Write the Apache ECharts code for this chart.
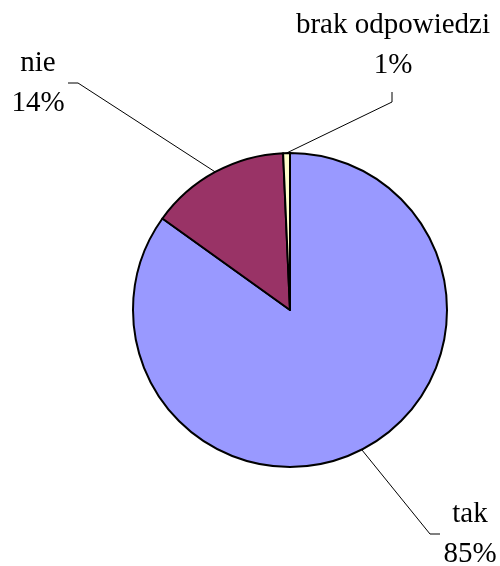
<!DOCTYPE html>
<html>
<head>
<meta charset="utf-8">
<script src="https://cdn.jsdelivr.net/npm/echarts@6/dist/echarts.min.js"></script>
<style>
  html, body { margin: 0; padding: 0; background: #fff; }
  #chart { width: 500px; height: 566px; }
</style>
</head>
<body>
<div id="chart"></div>
<script>
const categories = ['tak', 'nie', 'brak odpowiedzi']
const values = [84.9, 14.4, 0.7]
const colors = ['#9999FF', '#993366', '#FFFFCC']

const CX = 290
const CY = 310
const R = 157

// where each label sits and how its leader line ends (elbow, end)
const labelPlace = {
  'tak': { x: 470, y: 534, elbow: [430, 534], end: [440, 534] },
  'nie': { x: 38, y: 83, elbow: [78, 83], end: [68, 83] },
  'brak odpowiedzi': { x: 393, y: 45, elbow: [392, 102], end: [392, 92] }
}

function midPoint(idx) {
  const total = values.reduce((a, b) => a + b, 0)
  let before = 0
  for (let i = 0; i < idx; i++) before += values[i]
  const a = ((before + values[idx] / 2) / total) * Math.PI * 2
  return [CX + R * Math.sin(a), CY - R * Math.cos(a)]
}

const chart = echarts.init(document.getElementById('chart'))

const option = {
  backgroundColor: '#fff',
  animation: false,
  series: [
    {
      type: 'pie',
      center: [CX, CY],
      radius: R,
      startAngle: 90,
      clockwise: true,
      percentPrecision: 0,
      avoidLabelOverlap: false,
      itemStyle: { borderColor: '#000', borderWidth: 2 },
      emphasis: { disabled: true },
      label: {
        show: true,
        position: 'outside',
        formatter: '{b}\n{d}%',
        color: '#000',
        fontFamily: '"Liberation Serif", "Times New Roman", serif',
        fontSize: 29,
        lineHeight: 40
      },
      labelLine: {
        show: true,
        lineStyle: { color: '#000', width: 1 }
      },
      labelLayout: (params) => {
        const name = categories[params.dataIndex]
        const p = labelPlace[name]
        const start = (params.labelLinePoints && params.labelLinePoints[0]) || midPoint(params.dataIndex)
        return {
          x: p.x,
          y: p.y,
          align: 'center',
          verticalAlign: 'middle',
          labelLinePoints: [start, p.elbow, p.end]
        }
      },
      data: categories.map((c, i) => ({
        name: c,
        value: values[i],
        itemStyle: { color: colors[i] }
      }))
    }
  ]
}

chart.setOption(option)
</script>
</body>
</html>
